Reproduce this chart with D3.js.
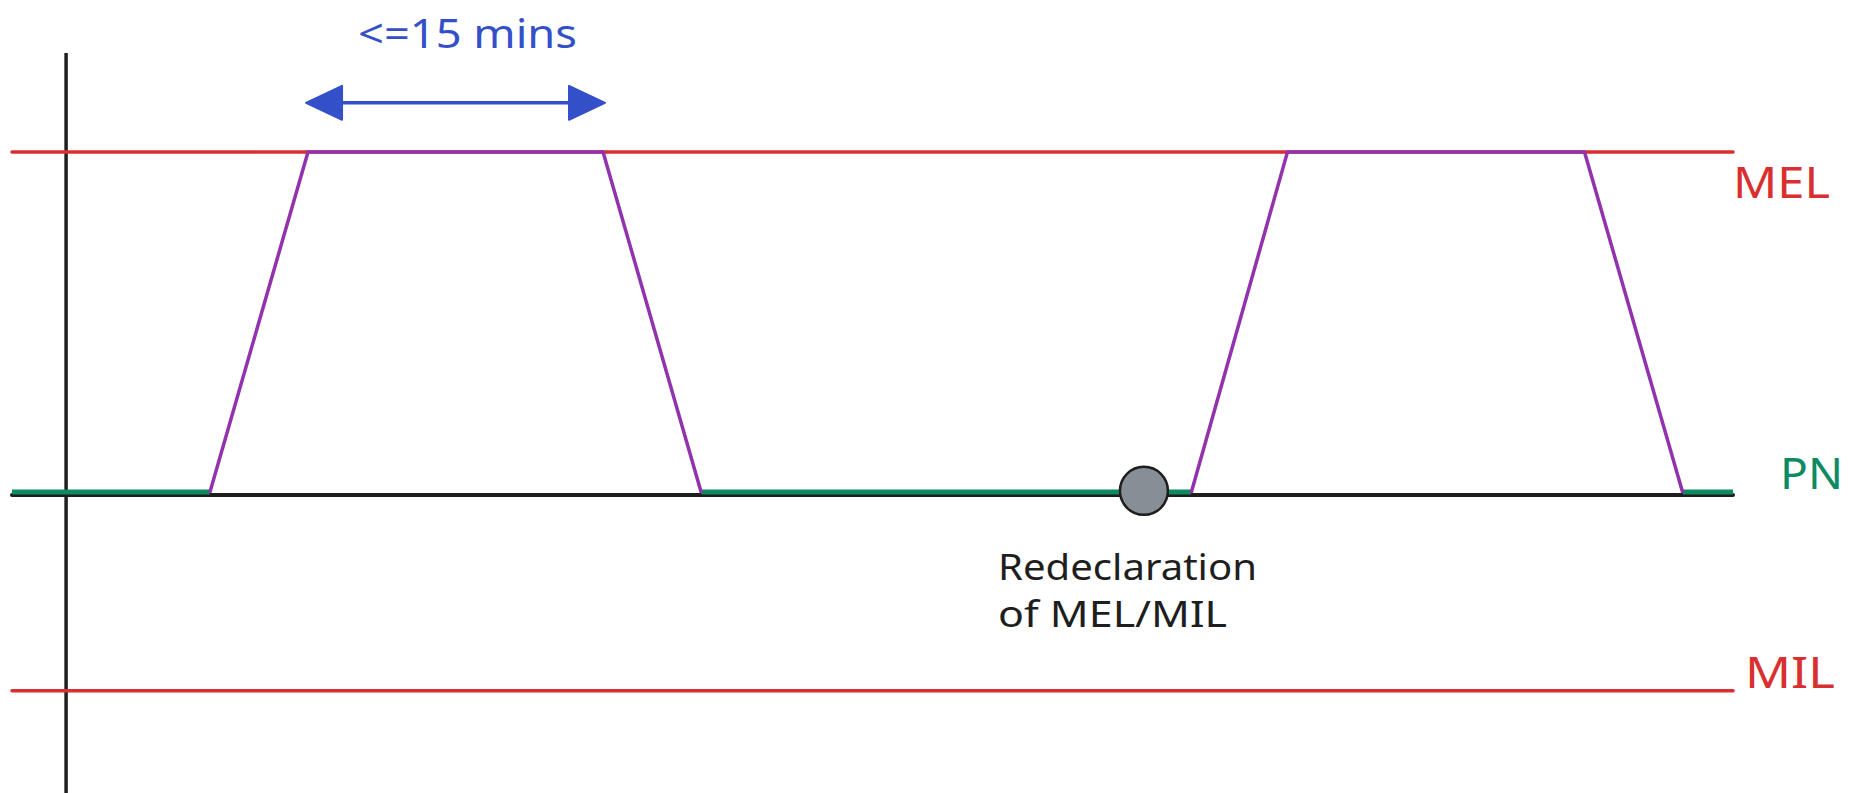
<!DOCTYPE html>
<html>
<head>
<meta charset="utf-8">
<script src="https://cdn.jsdelivr.net/npm/d3@7"></script>
<style>
  html, body { margin: 0; padding: 0; background: #ffffff; }
  svg { display: block; }
  text { font-family: "Noto Sans", "DejaVu Sans", sans-serif; }
</style>
</head>
<body>
<div id="chart"></div>
<script>
// level lines (MW-ish units, PN = 0)
var levelNames = ["MEL", "PN", "MIL"];
var levelValues = [100, 0, -58];

// ramp profile (minutes, level); null splits the two excursions
var profileTimes = [7.3, 12.3, 27.3, 32.3, null, 57.2, 62.1, 77.2, 82.2];
var profileValues = [0, 100, 100, 0, null, 0, 100, 100, 0];

// green PN segments where output sits at PN
var pnStart = [-2.75, 32.3, 82.2];
var pnEnd = [7.3, 57.2, 84.75];

// redeclaration marker
var redeclTime = 54.8;
var redeclValue = 0.6;
var redeclLines = ["Redeclaration", "of MEL/MIL"];

// duration annotation
var arrowTimes = [12.2, 27.4];
var arrowValue = 114.4;
var arrowLabel = "<=15 mins";

var total_width = 1849,
    total_height = 793;

var svg = d3.select("#chart").append("svg")
    .attr("width", total_width)
    .attr("height", total_height);

var x = d3.scaleLinear()
    .domain([-2.75, 84.75])
    .range([12, 1733]);

var y = d3.scaleLinear()
    .domain([-88, 129])
    .range([793, 53]);

var red = "#d92f2f", violet = "#9232ad", green = "#0c8a61", blue = "#3450c9", ink = "#1e1e1e";

// vertical axis (time origin)
svg.append("line")
    .attr("x1", x(0)).attr("x2", x(0))
    .attr("y1", y(129)).attr("y2", y(-88))
    .attr("stroke", ink)
    .attr("stroke-width", 3.5);

// PN baseline (black), slightly below the green level
svg.append("line")
    .attr("x1", x.range()[0]).attr("x2", x.range()[1])
    .attr("y1", y(0) + 2).attr("y2", y(0) + 2)
    .attr("stroke", ink)
    .attr("stroke-width", 4)
    .attr("stroke-linecap", "round");

// MEL / MIL lines
svg.selectAll(".limit")
    .data([levelValues[0], levelValues[2]])
    .enter()
    .append("line")
      .attr("class", "limit")
      .attr("x1", x.range()[0]).attr("x2", x.range()[1])
      .attr("y1", d => y(d)).attr("y2", d => y(d))
      .attr("stroke", red)
      .attr("stroke-width", 3.5)
      .attr("stroke-linecap", "round");

// green PN segments
svg.selectAll(".pn")
    .data(pnStart.map((s, i) => ({s: s, e: pnEnd[i]})))
    .enter()
    .append("line")
      .attr("class", "pn")
      .attr("x1", d => x(d.s)).attr("x2", d => x(d.e))
      .attr("y1", y(0) - 1).attr("y2", y(0) - 1)
      .attr("stroke", green)
      .attr("stroke-width", 5);

// ramp profile
var profile = profileTimes.map((t, i) => ({t: t, v: profileValues[i]}));
svg.append("path")
    .datum(profile)
    .attr("fill", "none")
    .attr("stroke", violet)
    .attr("stroke-width", 3.5)
    .attr("stroke-linejoin", "round")
    .attr("d", d3.line()
      .defined(d => d.t != null)
      .x(d => x(d.t))
      .y(d => y(d.v)));

// redeclaration marker
svg.append("circle")
    .attr("cx", x(redeclTime))
    .attr("cy", y(redeclValue))
    .attr("r", 24)
    .attr("fill", "#868e96")
    .attr("stroke", ink)
    .attr("stroke-width", 2.5);

svg.append("g")
    .selectAll("text")
    .data(redeclLines)
    .enter()
    .append("text")
      .attr("x", 998)
      .attr("y", (d, i) => 580 + i * 47)
      .attr("fill", ink)
      .attr("font-size", 36)
      .attr("textLength", (d, i) => i == 0 ? 259 : 229)
      .attr("lengthAdjust", "spacingAndGlyphs")
      .text(d => d);

// level labels
var labelX = [1733, 1780, 1745],
    labelY = [198, 489, 688],
    labelW = [97, 63, 90],
    labelColor = [red, green, red];

svg.append("g")
    .selectAll("text")
    .data(levelNames)
    .enter()
    .append("text")
      .attr("x", (d, i) => labelX[i])
      .attr("y", (d, i) => labelY[i])
      .attr("fill", (d, i) => labelColor[i])
      .attr("font-size", 44)
      .attr("textLength", (d, i) => labelW[i])
      .attr("lengthAdjust", "spacingAndGlyphs")
      .text(d => d);

// duration arrow
var ax0 = x(arrowTimes[0]), ax1 = x(arrowTimes[1]), ay = y(arrowValue),
    headLen = 36, headHalf = 17;

svg.append("line")
    .attr("x1", ax0 + headLen - 4).attr("x2", ax1 - headLen + 4)
    .attr("y1", ay).attr("y2", ay)
    .attr("stroke", blue)
    .attr("stroke-width", 3.5);

svg.append("path")
    .attr("d", "M" + ax0 + "," + ay + "L" + (ax0 + headLen) + "," + (ay - headHalf) +
               "L" + (ax0 + headLen) + "," + (ay + headHalf) + "Z")
    .attr("fill", blue).attr("stroke", blue)
    .attr("stroke-width", 2).attr("stroke-linejoin", "round");

svg.append("path")
    .attr("d", "M" + ax1 + "," + ay + "L" + (ax1 - headLen) + "," + (ay - headHalf) +
               "L" + (ax1 - headLen) + "," + (ay + headHalf) + "Z")
    .attr("fill", blue).attr("stroke", blue)
    .attr("stroke-width", 2).attr("stroke-linejoin", "round");

svg.append("text")
    .attr("x", 358)
    .attr("y", 48)
    .attr("fill", blue)
    .attr("font-size", 40)
    .attr("textLength", 219)
    .attr("lengthAdjust", "spacingAndGlyphs")
    .text(arrowLabel);
</script>
</body>
</html>
